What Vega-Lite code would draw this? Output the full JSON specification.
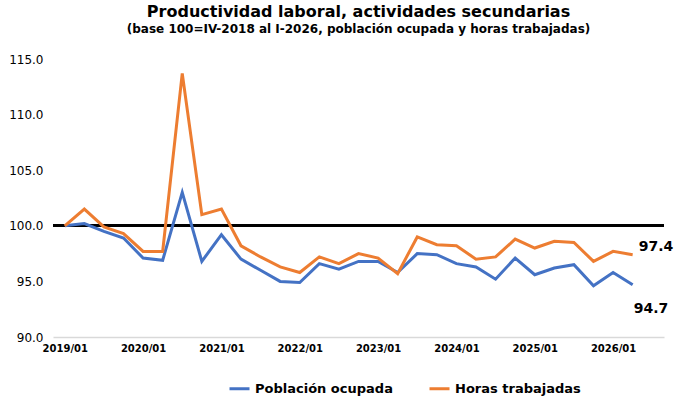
{
  "$schema": "https://vega.github.io/schema/vega-lite/v6.json",
  "width": 680,
  "height": 405,
  "autosize": {"type": "fit", "contains": "padding"},
  "background": "white",
  "padding": {"left": 8, "right": 10, "top": 4, "bottom": 52},
  "title": {
    "text": "Productividad laboral, actividades secundarias",
    "subtitle": "(base 100=IV-2018 al I-2026, población ocupada y horas trabajadas)",
    "font": "DejaVu Sans",
    "fontSize": 16,
    "fontWeight": "bold",
    "subtitleFont": "DejaVu Sans",
    "subtitleFontSize": 12,
    "subtitleFontWeight": "bold",
    "subtitleColor": "black",
    "subtitlePadding": 4,
    "offset": 18,
    "anchor": "middle",
    "color": "black"
  },
  "config": {"view": {"stroke": null}, "font": "DejaVu Sans"},
  "data": {
    "values": [
      {"i": 0, "po": 100.0, "ht": 100.0},
      {"i": 1, "po": 100.2, "ht": 101.5},
      {"i": 2, "po": 99.5, "ht": 99.9},
      {"i": 3, "po": 98.9, "ht": 99.3},
      {"i": 4, "po": 97.1, "ht": 97.7},
      {"i": 5, "po": 96.9, "ht": 97.7},
      {"i": 6, "po": 103.0, "ht": 113.7},
      {"i": 7, "po": 96.8, "ht": 101.0},
      {"i": 8, "po": 99.2, "ht": 101.5},
      {"i": 9, "po": 97.0, "ht": 98.2},
      {"i": 10, "po": 96.0, "ht": 97.2},
      {"i": 11, "po": 95.0, "ht": 96.3},
      {"i": 12, "po": 94.9, "ht": 95.8},
      {"i": 13, "po": 96.6, "ht": 97.2},
      {"i": 14, "po": 96.1, "ht": 96.6},
      {"i": 15, "po": 96.8, "ht": 97.5},
      {"i": 16, "po": 96.8, "ht": 97.1},
      {"i": 17, "po": 95.8, "ht": 95.7},
      {"i": 18, "po": 97.5, "ht": 99.0},
      {"i": 19, "po": 97.4, "ht": 98.3},
      {"i": 20, "po": 96.6, "ht": 98.2},
      {"i": 21, "po": 96.3, "ht": 97.0},
      {"i": 22, "po": 95.2, "ht": 97.2},
      {"i": 23, "po": 97.1, "ht": 98.8},
      {"i": 24, "po": 95.6, "ht": 98.0},
      {"i": 25, "po": 96.2, "ht": 98.6},
      {"i": 26, "po": 96.5, "ht": 98.5},
      {"i": 27, "po": 94.6, "ht": 96.8},
      {"i": 28, "po": 95.8, "ht": 97.7},
      {"i": 29, "po": 94.7, "ht": 97.4}
    ]
  },
  "transform": [
    {"fold": ["po", "ht"], "as": ["key", "value"]},
    {"lookup": "key", "from": {"data": {"values": [
      {"key": "po", "serie": "Población ocupada"},
      {"key": "ht", "serie": "Horas trabajadas"}
    ]}, "key": "key", "fields": ["serie"]}}
  ],
  "encoding": {
    "x": {
      "field": "i",
      "type": "quantitative",
      "scale": {"domain": [-0.6, 30.6], "nice": false, "zero": false},
      "axis": {
        "title": null,
        "grid": false,
        "values": [0, 4, 8, 12, 16, 20, 24, 28],
        "labelExpr": "'' + (2019 + datum.value / 4) + '/01'",
        "ticks": false,
        "domainColor": "#d9d9d9",
        "domainWidth": 1.5,
        "labelFontSize": 10,
        "labelFontWeight": "bold",
        "labelColor": "black",
        "labelPadding": 6
      }
    },
    "y": {
      "field": "value",
      "type": "quantitative",
      "scale": {"domain": [90, 115], "nice": false, "zero": false},
      "axis": {
        "title": null,
        "grid": false,
        "domain": false,
        "ticks": false,
        "values": [90, 95, 100, 105, 110, 115],
        "format": ".1f",
        "labelFontSize": 12,
        "labelColor": "black",
        "labelPadding": 10
      }
    }
  },
  "layer": [
    {
      "mark": {"type": "rule", "color": "black", "strokeWidth": 2},
      "encoding": {"y": {"datum": 100}, "x": null}
    },
    {
      "mark": {"type": "line", "strokeWidth": 3},
      "encoding": {
        "color": {
          "field": "serie",
          "type": "nominal",
          "sort": ["Población ocupada", "Horas trabajadas"],
          "scale": {"domain": ["Población ocupada", "Horas trabajadas"], "range": ["#4472c4", "#ed7d31"]},
          "legend": {
            "title": null,
            "orient": "none",
            "legendX": 175,
            "legendY": 318,
            "direction": "horizontal",
            "symbolType": "stroke",
            "symbolStrokeWidth": 3,
            "symbolSize": 400,
            "labelFontSize": 13,
            "labelFontWeight": "bold",
            "labelColor": "black",
            "columnPadding": 30
          }
        }
      }
    },
    {
      "transform": [{"filter": "datum.i == 29 && datum.key == 'ht'"}],
      "mark": {"type": "text", "align": "left", "dx": 6, "dy": -8, "fontSize": 14, "fontWeight": "bold", "color": "black"},
      "encoding": {"text": {"field": "value", "format": ".1f"}}
    },
    {
      "transform": [{"filter": "datum.i == 29 && datum.key == 'po'"}],
      "mark": {"type": "text", "align": "left", "dx": 1, "dy": 24, "fontSize": 14, "fontWeight": "bold", "color": "black"},
      "encoding": {"text": {"field": "value", "format": ".1f"}}
    }
  ]
}
